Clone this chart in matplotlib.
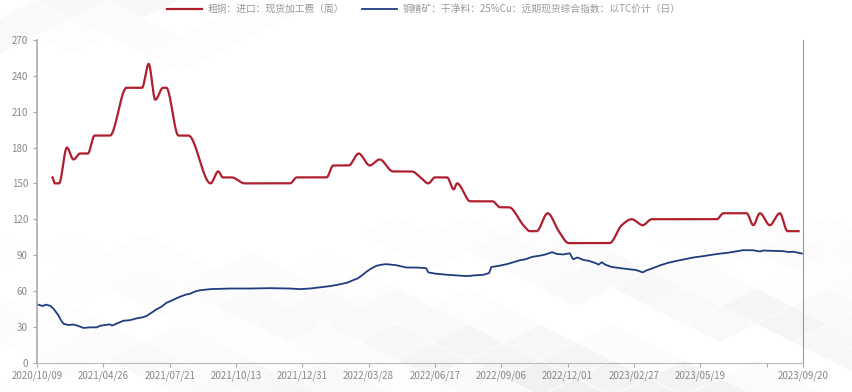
import numpy as np
import matplotlib
matplotlib.use("Agg")
import matplotlib.pyplot as plt
from matplotlib.patches import Polygon

plt.rcParams['font.family'] = ['Noto Sans CJK SC', 'DejaVu Sans']

# x axis is a category index (one tick every 60 categories)
tick_pos = [0, 60, 120, 180, 240, 300, 360, 420, 480, 540, 600, 660, 693]
tick_labels = ['2020/10/09', '2021/04/26', '2021/07/21', '2021/10/13', '2021/12/31',
               '2022/03/28', '2022/06/17', '2022/09/06', '2022/12/01', '2023/02/27',
               '2023/05/19', '', '2023/09/20']

# 粗铜加工费 (weekly), key points
red_x = [14, 16, 20, 27, 33, 39, 46, 52, 66, 81, 95, 101, 107, 114, 117, 128, 137,
         157, 164, 168, 176, 188, 229, 235, 262, 268, 282, 291, 301, 310, 322, 339,
         347, 354, 360, 371, 377, 380, 392, 412, 419, 427, 440, 446, 452, 462, 472,
         481, 518, 529, 538, 548, 556, 615, 621, 642, 648, 654, 663, 672, 679, 689]
red_y = [155, 150, 150, 180, 170, 175, 175, 190, 190, 230, 230, 250, 220, 230, 230, 190, 190,
         150, 160, 155, 155, 150, 150, 155, 155, 165, 165, 175, 165, 170, 160, 160,
         155, 150, 155, 155, 145, 150, 135, 135, 130, 130, 115, 110, 110, 125, 110,
         100, 100, 115, 120, 115, 120, 120, 125, 125, 115, 125, 115, 125, 110, 110]

# 铜精矿 TC index (daily)
blue_x = [0, 3, 5, 8, 12, 15, 19, 22, 24, 28, 33, 37, 42, 48, 54, 57, 62, 66, 68, 73,
          78, 84, 90, 96, 99, 104, 108, 113, 117, 122, 129, 135, 138, 143, 147, 157,
          175, 193, 211, 229, 238, 247, 256, 265, 274, 281, 286, 290, 294, 298, 302,
          307, 312, 316, 325, 334, 345, 352, 354, 360, 371, 379, 389, 396, 404, 409,
          411, 418, 425, 431, 437, 442, 448, 455, 460, 466, 470, 476, 482, 485, 489,
          494, 500, 506, 508, 511, 514, 520, 528, 537, 542, 548, 551, 557, 564, 571,
          579, 586, 594, 602, 609, 616, 624, 632, 639, 648, 654, 657, 666, 675, 680,
          684, 692]
blue_y = [48.7, 48, 47.3, 48.5, 47.5, 45, 40, 35, 32.5, 31.5, 31.8, 30.8, 29, 29.5, 29.5,
          30.8, 31.5, 32, 31, 33, 35, 35.5, 37, 38, 39, 42, 44.5, 47, 50, 52, 55, 57, 57.5,
          59.5, 60.5, 61.5, 62, 62, 62.3, 62, 61.5, 62, 63, 64, 65.5, 67, 69, 70.4, 73, 76,
          78.5, 81, 82, 82.4, 81.5, 79.6, 79.5, 79, 75.5, 74.5, 73.5, 73, 72.4, 73, 73.5, 75,
          80, 81, 82.4, 84, 85.7, 86.5, 88.5, 89.5, 90.5, 92.4, 91, 90.5, 91.5, 86.5, 88,
          86, 85, 83, 82, 84, 82, 80, 79, 78, 77.5, 75.5, 77, 79, 81.5, 83.5,
          85.2, 86.5, 88, 89, 90, 91, 91.8, 93, 94.1, 94, 93, 93.8, 93.5, 93.3, 92.5,
          92.8, 91.3]

red_name = '粗铜：进口：现货加工费（周）'
blue_name = '铜精矿：干净料：25%Cu：远期现货综合指数：以TC价计（日）'


def pchip(x, y, xs):
    # monotone cubic hermite curve through the key points (smooth line look)
    x = np.asarray(x, float)
    y = np.asarray(y, float)
    h = np.diff(x)
    d = np.diff(y) / h
    m = np.zeros_like(y)
    for k in range(1, len(x) - 1):
        if d[k - 1] * d[k] > 0:
            w1 = 2 * h[k] + h[k - 1]
            w2 = h[k] + 2 * h[k - 1]
            m[k] = (w1 + w2) / (w1 / d[k - 1] + w2 / d[k])
    i = np.clip(np.searchsorted(x, xs) - 1, 0, len(x) - 2)
    t = (xs - x[i]) / h[i]
    h00 = 2 * t**3 - 3 * t**2 + 1
    h10 = t**3 - 2 * t**2 + t
    h01 = -2 * t**3 + 3 * t**2
    h11 = t**3 - t**2
    return h00 * y[i] + h10 * h[i] * m[i] + h01 * y[i + 1] + h11 * h[i] * m[i + 1]


def diamond(ax, cx, cy, w, h, a):
    ax.add_patch(Polygon([(cx - w / 2, cy), (cx, cy - h / 2), (cx + w / 2, cy), (cx, cy + h / 2)],
                         closed=True, fc='#7a7a7a', ec='none', alpha=a))


fig = plt.figure(figsize=(8.53, 3.92), dpi=100)

# faint tiled floor in the background (pixel coordinates)
bg = fig.add_axes([0, 0, 1, 1], zorder=0)
bg.set_xlim(0, 853)
bg.set_ylim(392, 0)
bg.axis('off')
shades = [0.0, 1.0, 0.35, 0.7, 0.0, 0.55, 0.9, 0.2, 0.6, 0.1, 0.8]
w, hgt = 72, 36
for j in range(0, 24):
    for i in range(-1, 14):
        cx = i * w + (j % 2) * w / 2
        cy = 180 + j * hgt / 2
        shade = shades[(i * 4 + j * 7) % len(shades)]
        fade = np.clip((cy - 215) / 160, 0, 1) * np.clip((cx + 100) / 650, 0.2, 1)
        a = 0.11 * shade * fade
        if a > 0.004:
            diamond(bg, cx, cy, w - 2, hgt - 1, a)
for j in range(-1, 7):
    for i in range(-1, 7):
        cx = i * w + (j % 2) * w / 2
        cy = j * hgt / 2
        shade = shades[(i * 3 + j * 5) % len(shades)]
        fade = np.clip((75 - cy) / 75, 0, 1) * np.clip((340 - cx) / 340, 0, 1)
        a = 0.09 * shade * fade
        if a > 0.004:
            diamond(bg, cx, cy, w - 2, hgt - 1, a)

ax = fig.add_axes([0.0434, 0.075, 0.898, 0.823], zorder=1)
ax.set_facecolor('none')

xs = np.linspace(red_x[0], red_x[-1], 2000)
ax.plot(xs, pchip(red_x, red_y, xs), color='#b01f2e', lw=1.6, label=red_name)
ax.plot(blue_x, blue_y, color='#1f3d7e', lw=1.3, label=blue_name)

ax.set_xlim(0, 693)
ax.set_ylim(0, 270)
ax.set_yticks(np.arange(0, 271, 30))
ax.set_xticks(tick_pos)
ax.set_xticklabels(tick_labels)

ax.spines['top'].set_visible(False)
ax.spines['left'].set_color('#aaaaaa')
ax.spines['bottom'].set_color('#bbbbbb')
ax.spines['right'].set_color('#999999')
ax.spines['left'].set_linewidth(1.2)
ax.tick_params(axis='both', colors='#aaaaaa', labelcolor='#888888', labelsize=7, length=3)
ax.tick_params(axis='x', pad=3)

fig.legend(loc='upper center', bbox_to_anchor=(0.497, 1.012), ncol=2, frameon=False,
           fontsize=7, labelcolor='#999999', handlelength=3.6, columnspacing=1.8,
           handletextpad=0.6)

fig.savefig('out.png', dpi=100)
